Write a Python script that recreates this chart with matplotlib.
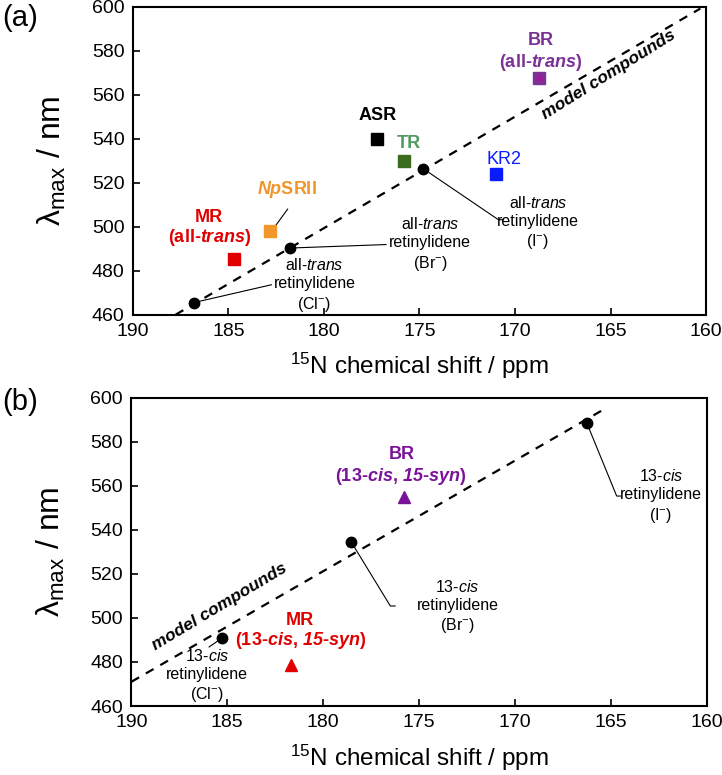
import matplotlib
matplotlib.use("Agg")
import matplotlib.pyplot as plt

plt.rcParams['font.family'] = ['Liberation Sans', 'DejaVu Sans']
plt.rcParams['mathtext.fontset'] = 'custom'
plt.rcParams['mathtext.rm'] = 'Liberation Sans'
plt.rcParams['mathtext.it'] = 'Liberation Sans:italic'
plt.rcParams['mathtext.bf'] = 'Liberation Sans:bold'
plt.rcParams['mathtext.bfit'] = 'Liberation Sans:bold:italic'
plt.rcParams['mathtext.sf'] = 'Liberation Sans'

# ---------------- Panel (a) data ----------------
a_model_x = [186.8, 181.8, 174.8]
a_model_y = [465.5, 490.3, 526.4]
a_line_x = [187.76, 160.3]
a_line_y = [460.0, 599.3]

a_prot_names = ["MR", "NpSRII", "ASR", "TR", "KR2", "BR"]
a_prot_x = [184.7, 182.8, 177.2, 175.8, 171.0, 168.75]
a_prot_y = [485.2, 498.1, 539.8, 530.1, 524.2, 567.9]
a_prot_colors = ["#e00000", "#f0962a", "#000000", "#3a6b1f", "#0a1cff", "#7a3296"]

# ---------------- Panel (b) data ----------------
b_model_x = [185.3, 178.55, 166.25]
b_model_y = [490.7, 534.6, 588.3]
b_line_x = [190.0, 165.2]
b_line_y = [471.0, 595.5]

b_prot_names = ["BR", "MR"]
b_prot_x = [175.8, 181.7]
b_prot_y = [555.0, 478.6]
b_prot_colors = ["#7a129a", "#e00000"]

xticks = [190, 185, 180, 175, 170, 165, 160]
yticks = [460, 480, 500, 520, 540, 560, 580, 600]

fig = plt.figure(figsize=(7.22, 7.75), dpi=100)
ax1 = fig.add_axes([0.184, 0.594, 0.794, 0.397])
ax2 = fig.add_axes([0.182, 0.089, 0.797, 0.398])

ANN = 11.5
LAB = 13


def style(ax):
    ax.set_xlim(190, 160)
    ax.set_ylim(460, 600)
    ax.set_xticks(xticks)
    ax.set_yticks(yticks)
    ax.tick_params(direction='in', length=5, width=1.2, labelsize=14, pad=6)
    for s in ax.spines.values():
        s.set_linewidth(1.5)
    ax.set_xlabel(r"$^{15}$N chemical shift / ppm", fontsize=17.5, labelpad=8)
    ax.set_ylabel(r"λ$_{\mathrm{max}}$ / nm", fontsize=23, labelpad=17)


style(ax1)
style(ax2)

# ---- panel (a)
ax1.plot(a_line_x, a_line_y, ls=(0, (4, 3.5)), color='black', lw=1.6, zorder=2)
ax1.plot(a_model_x, a_model_y, 'o', color='black', ms=7.5, zorder=4)
for x, y, c in zip(a_prot_x, a_prot_y, a_prot_colors):
    ax1.plot(x, y, 's', color=c, ms=9, zorder=4)
ax1.plot(a_prot_x[5], a_prot_y[5], marker='P', color='#9b1c9b', ms=5, zorder=5)

ax1.text(168.65, 584.8, "BR", color='#7a3296', fontsize=LAB, fontweight='bold', ha='center', va='center')
ax1.text(168.65, 574.8, r"(all-$\bfit{trans}$)", color='#7a3296', fontsize=LAB, fontweight='bold', ha='center', va='center')
ax1.text(177.2, 550.4, "ASR", color='black', fontsize=LAB, fontweight='bold', ha='center', va='center')
ax1.text(175.55, 537.7, "TR", color='#4f9a5c', fontsize=LAB, fontweight='bold', ha='center', va='center')
ax1.text(170.6, 530.6, "KR2", color='#0a1cff', fontsize=LAB, ha='center', va='center')
ax1.text(181.95, 517.0, r"$\bfit{Np}$SRII", color='#f0962a', fontsize=LAB, fontweight='bold', ha='center', va='center')
ax1.plot([181.9, 182.7], [508.0, 498.5], color='black', lw=0.8)
ax1.text(186.0, 504.4, "MR", color='#e00000', fontsize=LAB, fontweight='bold', ha='center', va='center')
ax1.text(186.0, 494.9, r"(all-$\bfit{trans}$)", color='#e00000', fontsize=LAB, fontweight='bold', ha='center', va='center')

ax1.text(168.8, 501.7, "all-$\\it{trans}$\nretinylidene\n(I$^{-}$)", fontsize=ANN, ha='center', va='center', linespacing=1.25)
ax1.plot([174.8, 170.87, 170.6], [526.4, 503.2, 503.2], color='black', lw=0.8, zorder=3)
ax1.text(174.45, 492.0, "all-$\\it{trans}$\nretinylidene\n(Br$^{-}$)", fontsize=ANN, ha='center', va='center', linespacing=1.25)
ax1.plot([181.8, 176.75], [490.3, 491.9], color='black', lw=0.8, zorder=3)
ax1.text(180.5, 473.3, "all-$\\it{trans}$\nretinylidene\n(Cl$^{-}$)", fontsize=ANN, ha='center', va='center', linespacing=1.25)
ax1.plot([186.8, 182.75], [465.5, 473.6], color='black', lw=0.8, zorder=3)

ax1.text(165.1, 569.3, "model compounds", fontsize=12.5, fontweight='bold', fontstyle='italic',
         rotation=32, ha='center', va='center', rotation_mode='anchor')

fig.text(0.003, 0.995, "(a)", fontsize=21, ha='left', va='top')

# ---- panel (b)
ax2.plot(b_line_x, b_line_y, ls=(0, (4, 3.5)), color='black', lw=1.6, zorder=2)
ax2.plot(b_model_x, b_model_y, 'o', color='black', ms=7.5, zorder=4)
for x, y, c in zip(b_prot_x, b_prot_y, b_prot_colors):
    ax2.plot(x, y, '^', color=c, ms=9, zorder=4)

ax2.text(175.9, 574.2, "BR", color='#7a129a', fontsize=LAB, fontweight='bold', ha='center', va='center')
ax2.text(175.95, 564.4, r"(13-$\bfit{cis}$, $\bfit{15}$-$\bfit{syn}$)", color='#7a129a', fontsize=LAB, fontweight='bold', ha='center', va='center')
ax2.text(181.2, 498.8, "MR", color='#e00000', fontsize=LAB, fontweight='bold', ha='center', va='center')
ax2.text(181.2, 489.6, r"(13-$\bfit{cis}$, $\bfit{15}$-$\bfit{syn}$)", color='#e00000', fontsize=LAB, fontweight='bold', ha='center', va='center')

ax2.text(162.4, 555.0, "13-$\\it{cis}$\nretinylidene\n(I$^{-}$)", fontsize=ANN, ha='center', va='center', linespacing=1.25)
ax2.plot([166.25, 164.7, 164.5], [588.3, 555.3, 555.3], color='black', lw=0.8, zorder=3)
ax2.text(173.0, 505.0, "13-$\\it{cis}$\nretinylidene\n(Br$^{-}$)", fontsize=ANN, ha='center', va='center', linespacing=1.25)
ax2.plot([178.55, 176.5, 176.25], [534.6, 505.4, 505.4], color='black', lw=0.8, zorder=3)
ax2.text(186.05, 473.6, "13-$\\it{cis}$\nretinylidene\n(Cl$^{-}$)", fontsize=ANN, ha='center', va='center', linespacing=1.25)
ax2.plot([185.95, 185.3], [486.8, 490.7], color='black', lw=0.8, zorder=3)

ax2.text(185.4, 505.0, "model compounds", fontsize=12.5, fontweight='bold', fontstyle='italic',
         rotation=31, ha='center', va='center', rotation_mode='anchor')

fig.text(0.003, 0.5, "(b)", fontsize=21, ha='left', va='top')

fig.savefig("out.png", dpi=100)
